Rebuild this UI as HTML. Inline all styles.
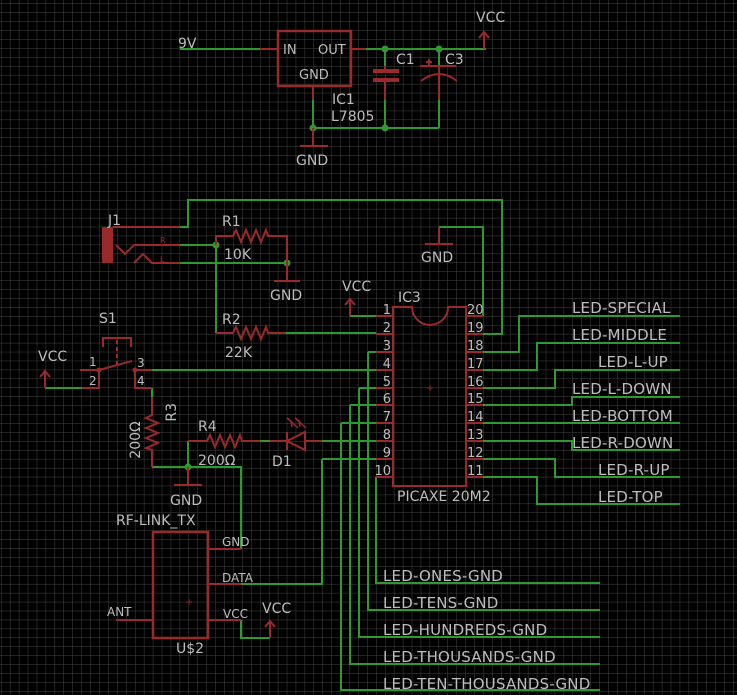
<!DOCTYPE html>
<html><head><meta charset="utf-8"><style>
html,body{margin:0;padding:0;background:#000;}
svg{display:block}
text{font-family:"DejaVu Sans","Liberation Sans",sans-serif;fill:#bdbdbd;}
</style></head><body>
<svg width="737" height="695" viewBox="0 0 737 695" xmlns="http://www.w3.org/2000/svg">
<defs>
<pattern id="g" x="1" y="3.5" width="8.93" height="8.93" patternUnits="userSpaceOnUse">
<path d="M0 0H8.93M0 0V8.93" stroke="#444" stroke-width="1" fill="none"/>
</pattern>
</defs>
<rect width="737" height="695" fill="#000"/>
<rect width="737" height="695" fill="url(#g)"/>

<g stroke="#2e9a2e" stroke-width="2" fill="none">
<path d="M180 49H260"/>
<path d="M366 49H486"/>
<path d="M385 49V66M439 49V66M385 100V128M439 100V128M313 100V128M313 128H439"/>
<path d="M180 227H188V200H502V334H483"/>
<path d="M439 227H483V316"/>
<path d="M180 245H216M180 263H287M216 245V333"/>
<path d="M286 333H376M350 316H376"/>
<path d="M368 352H376M368 352V610H600"/>
<path d="M152 370H376"/>
<path d="M359 388H376M359 388V637H600"/>
<path d="M350 405H376M350 405V664H600"/>
<path d="M341 423H376M341 423V690H600"/>
<path d="M322 441H376M322 459H376M322 459V584H241"/>
<path d="M376 477V583H600"/>
<path d="M260 441H270"/>
<path d="M45 388H82"/>
<path d="M152 388V397M152 467H241V549"/>
<path d="M188 441V467"/>
<path d="M241 620V638H270"/>
<path d="M483 352H519V316H680"/>
<path d="M483 370H537V343H680"/>
<path d="M483 388H555V370H680"/>
<path d="M483 405H572V397H680"/>
<path d="M483 423H680"/>
<path d="M483 441H572V450H680"/>
<path d="M483 459H555V477H680"/>
<path d="M483 477H537V504H680"/>
</g>
<g fill="#2e9a2e">
<circle cx="385" cy="49" r="3.5"/><circle cx="439" cy="49" r="3.5"/>
<circle cx="385" cy="128" r="3.5"/><circle cx="313" cy="128" r="3.5"/>
<circle cx="216" cy="245" r="3.5"/><circle cx="287" cy="263" r="3.5"/>
<circle cx="188" cy="467" r="3.5"/>
</g>

<g stroke="#9a2a2a" stroke-width="2" fill="none">
<rect x="278" y="31" width="73" height="55" stroke-width="2.5"/>
<path d="M260 49H278M351 49H366M313 86V100"/>
<path d="M385 66V71M385 80V100M439 66V100"/>
<path d="M300 146H328M313 128V146"/>
<path d="M420 66H456M439 75V100"/>
<path d="M421 81Q439 67 457 81"/>
<path d="M426 62H432M429 59V65"/>
<path d="M484 49V32M479 38L484 32L489 38"/>
<path d="M113 227H180M163 245H180M157 263H180"/>
<path d="M116 245L125 254L134 245H163M134 263L143 254L152 263H157"/>
<path d="M216 245V236H233L236 230L241 242L246 230L251 242L256 230L261 242L266 230L268 236H287V263"/>
<path d="M287 263V281M274 281H300"/>
<path d="M216 333H233L236 327L241 339L246 327L251 339L256 327L261 339L266 327L268 333H286"/>
<path d="M439 227V244M425 244H453"/>
<path d="M350 316V299M345 305L350 299L355 305"/>
<path d="M393 307H412A18 18 0 0 0 448 307H466V486H393Z" stroke-width="2"/>
<path d="M376 316H393M376 334H393M376 352H393M376 370H393M376 388H393M376 405H393M376 423H393M376 441H393M376 459H393M376 477H393"/>
<path d="M466 316H483M466 334H483M466 352H483M466 370H483M466 388H483M466 405H483M466 423H483M466 441H483M466 459H483M466 477H483"/>
<path d="M427 388H433M430 385V391" stroke-width="1"/>
<path d="M103 347V338H131V347"/>
<path d="M117 340V366" stroke-dasharray="4 3"/>
<path d="M80 370H99L132 361M99 370V388H82M135 370H152M135 370V388H152"/>
<path d="M45 388V371M40 377L45 371L50 377"/>
<path d="M152 397V415L146 418L158 423L146 428L158 433L146 438L158 443L146 448L152 450V467"/>
<path d="M188 467V485M174 485H202"/>
<path d="M188 441H207L210 435L215 447L220 435L225 447L230 435L235 447L240 435L242 441H260"/>
<path d="M270 441H287M305 441H322M287 432V450M287 441L305 432V450Z"/>
<path d="M298 428L287 418M292 427L291 421L287 418M306 428L295 418M300 427L299 421L295 418" stroke-width="1.5"/>
<rect x="153" y="532" width="55" height="106" stroke-width="2.5"/>
<path d="M208 549H241M208 584H241M208 620H241M116 620H153"/>
<path d="M186 602H192M189 599V605" stroke-width="1"/>
<path d="M270 638V621M265 627L270 621L275 627"/>
</g>
<rect x="373" y="69" width="26" height="4" fill="#9a2a2a"/>
<rect x="373" y="78" width="26" height="4" fill="#9a2a2a"/>
<rect x="102" y="227" width="11" height="36" fill="#9a2a2a"/>
<circle cx="99" cy="370" r="2.5" fill="#9a2a2a"/><circle cx="135" cy="370" r="2.5" fill="#9a2a2a"/>

<g font-size="14">
<text x="178" y="48">9V</text>
<text x="283" y="54" font-size="13">IN</text>
<text x="318" y="54" font-size="13">OUT</text>
<text x="299" y="79" font-size="13">GND</text>
<text x="332" y="104">IC1</text>
<text x="331" y="121">L7805</text>
<text x="296" y="165">GND</text>
<text x="396" y="64">C1</text>
<text x="445" y="64">C3</text>
<text x="476" y="22">VCC</text>
<text x="108" y="225">J1</text>
<text x="160" y="243" font-size="8" style="fill:#9a2a2a">R</text>
<text x="160" y="262" font-size="8" style="fill:#9a2a2a">L</text>
<text x="222" y="226">R1</text>
<text x="224" y="259">10K</text>
<text x="270" y="300">GND</text>
<text x="421" y="262">GND</text>
<text x="342" y="291">VCC</text>
<text x="222" y="324">R2</text>
<text x="225" y="357">22K</text>
<text x="398" y="302">IC3</text>
<text x="397" y="501">PICAXE 20M2</text>
<text x="99" y="323">S1</text>
<text x="38" y="361">VCC</text>
<text x="198" y="431">R4</text>
<text x="198" y="465">200Ω</text>
<text x="272" y="466">D1</text>
<text transform="translate(176,403) rotate(-90)" text-anchor="end">R3</text>
<text transform="translate(140,440) rotate(-90)" text-anchor="middle">200Ω</text>
<text x="170" y="505">GND</text>
<text x="116" y="525">RF-LINK_TX</text>
<text x="176" y="653">U$2</text>
<text x="262" y="613">VCC</text>
</g>
<g font-size="12">
<text x="89" y="366">1</text><text x="89" y="385">2</text>
<text x="137" y="367">3</text><text x="137" y="385">4</text>
<text x="222" y="546">GND</text>
<text x="222" y="582">DATA</text>
<text x="223" y="618">VCC</text>
<text x="107" y="616">ANT</text>
</g>
<g font-size="13" text-anchor="end">
<text x="391" y="314">1</text><text x="391" y="332">2</text><text x="391" y="350">3</text><text x="391" y="368">4</text><text x="391" y="386">5</text><text x="391" y="403">6</text><text x="391" y="421">7</text><text x="391" y="439">8</text><text x="391" y="457">9</text><text x="391" y="475">10</text>
</g>
<g font-size="13">
<text x="467" y="314">20</text><text x="467" y="332">19</text><text x="467" y="350">18</text><text x="467" y="368">17</text><text x="467" y="386">16</text><text x="467" y="403">15</text><text x="467" y="421">14</text><text x="467" y="439">13</text><text x="467" y="457">12</text><text x="467" y="475">11</text>
</g>
<g font-size="15" letter-spacing="0.2">
<text x="572" y="313">LED-SPECIAL</text>
<text x="572" y="340">LED-MIDDLE</text>
<text x="598" y="367">LED-L-UP</text>
<text x="572" y="394">LED-L-DOWN</text>
<text x="572" y="421">LED-BOTTOM</text>
<text x="572" y="448">LED-R-DOWN</text>
<text x="598" y="475">LED-R-UP</text>
<text x="598" y="502">LED-TOP</text>
<text x="383" y="581">LED-ONES-GND</text>
<text x="383" y="608">LED-TENS-GND</text>
<text x="383" y="635">LED-HUNDREDS-GND</text>
<text x="383" y="662">LED-THOUSANDS-GND</text>
<text x="383" y="689">LED-TEN-THOUSANDS-GND</text>
</g>
</svg>
</body></html>
